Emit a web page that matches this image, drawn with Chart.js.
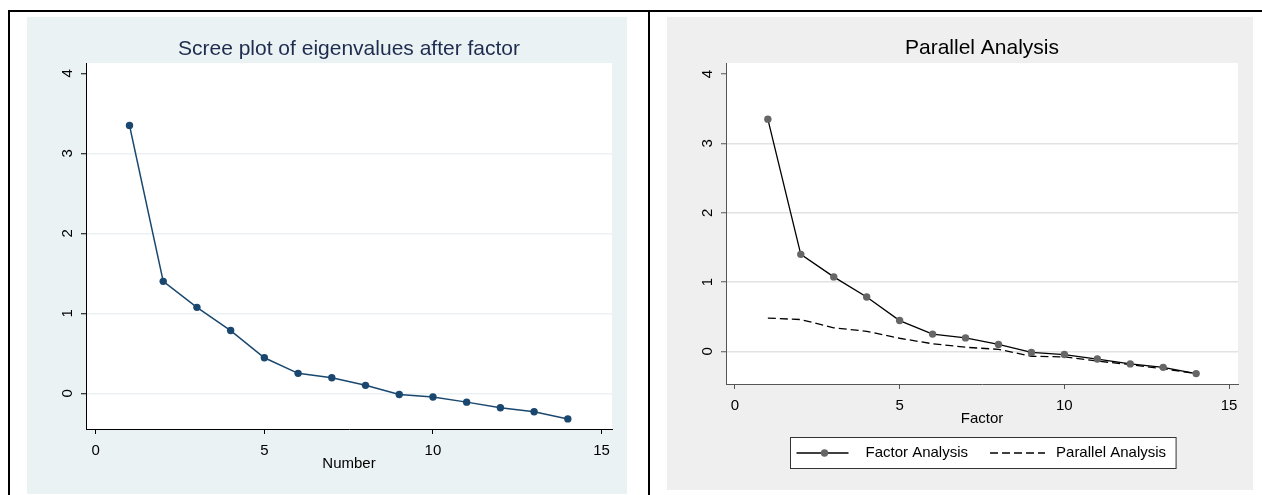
<!DOCTYPE html>
<html>
<head>
<meta charset="utf-8">
<script src="https://cdn.jsdelivr.net/npm/chart.js@4.4.1/dist/chart.umd.min.js"></script>
<style>
  body { margin: 0; background: #fff; width: 1262px; height: 495px; position: relative; overflow: hidden; }
  .rule { position: absolute; background: #000; }
  .panel { position: absolute; }
</style>
</head>
<body>
<!-- table rules round the two graphs -->
<div class="rule" style="left:8px;top:10px;width:1254px;height:2px"></div>
<div class="rule" style="left:8px;top:10px;width:2px;height:485px"></div>
<div class="rule" style="left:648px;top:10px;width:2px;height:485px"></div>

<div class="panel" style="left:27px;top:17px;width:600px;height:477px;background:#eaf2f3">
  <canvas id="scree"></canvas>
</div>
<div class="panel" style="left:667px;top:17px;width:586px;height:473px;background:#efefef">
  <canvas id="parallel"></canvas>
</div>

<script>
// Data
const factorNumbers = [1, 2, 3, 4, 5, 6, 7, 8, 9, 10, 11, 12, 13, 14];
const eigenvalues = [3.35, 1.40, 1.075, 0.785, 0.445, 0.25, 0.195, 0.10, -0.015, -0.045, -0.11, -0.18, -0.23, -0.32];
const parallelValues = [0.48, 0.46, 0.34, 0.29, 0.19, 0.11, 0.06, 0.03, -0.07, -0.08, -0.14, -0.19, -0.25, -0.32];
const xTicks = [0, 5, 10, 15];
const yTicks = [0, 1, 2, 3, 4];

const FONT = '"Liberation Sans", Arial, Helvetica, sans-serif';

function points(ys) {
  return factorNumbers.map((x, i) => ({ x: x, y: ys[i] }));
}

// White plot region
const plotRegion = {
  id: 'plotRegion',
  beforeDraw(chart) {
    const { ctx, chartArea } = chart;
    ctx.save();
    ctx.fillStyle = '#fff';
    ctx.fillRect(chartArea.left, chartArea.top, chartArea.right - chartArea.left, chartArea.bottom - chartArea.top);
    ctx.restore();
  }
};

// Title centred over the plot region
const plotTitle = {
  id: 'plotTitle',
  afterDraw(chart, args, opts) {
    const { ctx, chartArea } = chart;
    ctx.save();
    ctx.font = '21px ' + FONT;
    ctx.fillStyle = opts.color;
    ctx.textAlign = 'center';
    ctx.textBaseline = 'middle';
    ctx.fillText(opts.text, (chartArea.left + chartArea.right) / 2, opts.y);
    ctx.restore();
  }
};

// Stata style y labels, turned on their side
const yLabels = {
  id: 'yLabels',
  afterDraw(chart) {
    const { ctx, chartArea, scales } = chart;
    ctx.save();
    ctx.font = '15px ' + FONT;
    ctx.fillStyle = '#000';
    ctx.textAlign = 'center';
    ctx.textBaseline = 'middle';
    yTicks.forEach(v => {
      const y = scales.y.getPixelForValue(v);
      ctx.save();
      ctx.translate(chartArea.left - 18, y);
      ctx.rotate(-Math.PI / 2);
      ctx.fillText(String(v), 0, 0);
      ctx.restore();
    });
    ctx.restore();
  }
};

// Boxed legend under the x axis title
const boxLegend = {
  id: 'boxLegend',
  afterDraw(chart) {
    const { ctx, chartArea } = chart;
    const ds = chart.data.datasets;
    ctx.save();
    ctx.font = '15px ' + FONT;
    const w1 = ctx.measureText(ds[0].label).width;
    const w2 = ctx.measureText(ds[1].label).width;
    const width = 6 + 52 + 17 + w1 + 22 + 55 + 11 + w2 + 10;
    const height = 31;
    const cx = (chartArea.left + chartArea.right) / 2 + 1;
    const left = Math.round(cx - width / 2) + 0.5;
    const top = Math.round(chartArea.bottom + 53) + 0.5;
    ctx.fillStyle = '#fff';
    ctx.fillRect(left, top, width, height);
    ctx.strokeStyle = '#333';
    ctx.lineWidth = 1;
    ctx.strokeRect(left, top, width, height);
    const cy = top + height / 2;
    let x = left + 6;

    ctx.strokeStyle = ds[0].borderColor;
    ctx.lineWidth = ds[0].borderWidth;
    ctx.beginPath();
    ctx.moveTo(x, cy);
    ctx.lineTo(x + 52, cy);
    ctx.stroke();
    ctx.fillStyle = ds[0].pointBackgroundColor;
    ctx.beginPath();
    ctx.arc(x + 28, cy, ds[0].pointRadius, 0, Math.PI * 2);
    ctx.fill();
    x += 52 + 17;
    ctx.fillStyle = '#000';
    ctx.textBaseline = 'middle';
    ctx.fillText(ds[0].label, x, cy);
    x += w1 + 22;

    ctx.strokeStyle = ds[1].borderColor;
    ctx.lineWidth = ds[1].borderWidth;
    ctx.setLineDash(ds[1].borderDash);
    ctx.beginPath();
    ctx.moveTo(x, cy);
    ctx.lineTo(x + 55, cy);
    ctx.stroke();
    ctx.setLineDash([]);
    x += 55 + 11;
    ctx.fillText(ds[1].label, x, cy);
    ctx.restore();
  }
};

function makeScales(range, axisColor, gridColor, xHeight, xTitle, xTitlePad) {
  return {
    x: {
      type: 'linear',
      min: range[0],
      max: range[1],
      afterBuildTicks: s => { s.ticks = xTicks.map(v => ({ value: v })); },
      afterFit: s => { s.height = xHeight; },
      grid: { drawOnChartArea: false, drawTicks: true, tickLength: 5, tickColor: axisColor },
      border: { display: true, color: axisColor, width: 1 },
      ticks: {
        color: '#000', font: { family: FONT, size: 15 }, padding: 8,
        maxRotation: 0, autoSkip: false, callback: v => String(v)
      },
      title: {
        display: true, text: xTitle, color: '#000',
        font: { family: FONT, size: 15 }, padding: { top: 0, bottom: xTitlePad }
      }
    },
    y: {
      type: 'linear',
      min: range[2],
      max: range[3],
      afterBuildTicks: s => { s.ticks = yTicks.map(v => ({ value: v })); },
      afterFit: s => { s.width = 59; },
      grid: {
        color: c => (c.tick && c.tick.value === 4) ? 'rgba(0,0,0,0)' : gridColor,
        lineWidth: 1.5, drawTicks: true, tickLength: 5, tickColor: axisColor, tickWidth: 1
      },
      border: { display: true, color: axisColor, width: 1 },
      ticks: { display: false }
    }
  };
}

new Chart(document.getElementById('scree'), {
  type: 'line',
  data: {
    datasets: [{
      label: 'Eigenvalues',
      data: points(eigenvalues),
      borderColor: '#1a476f',
      borderWidth: 1.5,
      pointRadius: 3.7,
      pointBackgroundColor: '#1a476f',
      pointBorderColor: '#1a476f',
      pointBorderWidth: 0,
      tension: 0
    }]
  },
  options: {
    responsive: true,
    maintainAspectRatio: false,
    animation: false,
    layout: { padding: { top: 46, right: 15, left: 0, bottom: 0 } },
    scales: makeScales([-0.29, 15.31, -0.446, 4.13], '#000', '#eaf2f3', 65, 'Number', 21),
    plugins: {
      legend: { display: false },
      tooltip: { enabled: false },
      plotTitle: { text: 'Scree plot of eigenvalues after factor', color: '#1e2c4f', y: 32 }
    }
  },
  plugins: [plotRegion, plotTitle, yLabels]
});

new Chart(document.getElementById('parallel'), {
  type: 'line',
  data: {
    datasets: [{
      label: 'Factor Analysis',
      data: points(eigenvalues),
      borderColor: '#000',
      borderWidth: 1.3,
      pointRadius: 3.7,
      pointBackgroundColor: '#666',
      pointBorderColor: '#666',
      pointBorderWidth: 0,
      tension: 0
    }, {
      label: 'Parallel Analysis',
      data: points(parallelValues),
      borderColor: '#000',
      borderWidth: 1.3,
      borderDash: [8, 4],
      pointRadius: 0,
      tension: 0
    }]
  },
  options: {
    responsive: true,
    maintainAspectRatio: false,
    animation: false,
    layout: { padding: { top: 46, right: 15, left: 0, bottom: 0 } },
    scales: makeScales([-0.27, 15.27, -0.47, 4.16], '#555', '#e2e2e2', 106, 'Factor', 62),
    plugins: {
      legend: { display: false },
      tooltip: { enabled: false },
      plotTitle: { text: 'Parallel Analysis', color: '#000', y: 31 }
    }
  },
  plugins: [plotRegion, plotTitle, yLabels, boxLegend]
});
</script>
</body>
</html>
